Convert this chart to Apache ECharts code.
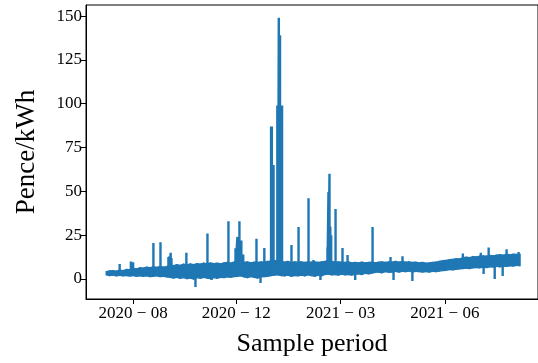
<!DOCTYPE html>
<html>
<head>
<meta charset="utf-8">
<script src="https://cdn.jsdelivr.net/npm/echarts@6/dist/echarts.min.js"></script>
<style>
  html, body { margin: 0; padding: 0; background: #fff; }
  #chart { width: 538px; height: 363px; }
</style>
</head>
<body>
<div id="chart"></div>
<script>
// x is days counted from the first labelled tick
const tickDays = [0, 92, 185, 278];
const tickLabels = ['2020 − 08', '2020 − 12', '2021 − 03', '2021 − 06'];
const yTicks = [0, 25, 50, 75, 100, 125, 150];

// everyday range of the price: [day, low, high]
const band = [
  [-24,2.4,4.2],[-21,2.0,4.6],[-18,2.2,4.8],[-15,1.8,4.5],[-12,2.1,5.0],[-9,1.9,4.8],[-6,2.0,5.4],[-3,1.7,5.2],
  [0,2.0,6.0],[3,1.6,5.8],[6,1.8,6.4],[9,1.5,6.2],[12,1.8,6.8],[15,1.4,6.4],[18,1.6,7.0],[21,1.8,6.6],
  [24,1.4,7.2],[27,1.6,6.8],[30,1.2,7.0],[33,1.0,8.0],[36,0.6,7.6],[39,1.0,8.2],[42,0.4,7.8],[45,0.8,8.4],
  [48,0.2,8.0],[51,0.6,8.6],[54,0.0,8.2],[57,0.8,8.8],[60,0.4,8.4],[63,1.0,9.0],[66,0.6,8.6],[69,0.2,9.2],
  [72,0.8,8.8],[75,0.4,9.0],[78,1.0,8.6],[81,0.8,9.2],[84,1.2,9.4],[87,1.0,9.0],[90,1.4,9.6],[93,1.6,10.5],
  [96,1.8,10.0],[99,1.2,9.4],[102,0.8,9.8],[105,1.4,9.2],[108,1.0,9.6],[111,0.6,9.4],[114,1.2,9.8],[117,1.4,9.6],
  [120,1.6,10.0],[123,2.0,10.2],[126,2.2,10.4],[129,2.4,10.6],[132,2.0,10.0],[135,1.8,9.6],[138,2.2,10.0],[141,1.6,9.4],
  [144,2.0,9.8],[147,1.8,9.6],[150,2.2,9.8],[153,1.8,9.4],[156,2.4,9.8],[159,2.0,9.6],[162,1.6,9.8],[165,2.2,9.4],
  [168,1.8,9.8],[171,2.6,10.0],[174,2.8,10.4],[177,2.4,10.0],[180,2.6,9.6],[183,2.2,9.8],[186,2.8,9.6],[189,2.4,9.4],
  [192,2.6,9.8],[195,2.2,9.2],[198,2.8,9.4],[201,3.0,9.2],[204,2.6,9.6],[207,3.2,9.2],[210,3.0,9.4],[213,3.4,9.6],
  [216,3.8,9.2],[219,4.0,9.6],[222,3.6,9.8],[225,4.2,9.4],[228,3.8,9.8],[231,4.0,9.6],[234,4.4,10.0],[237,4.0,9.6],
  [240,4.4,10.0],[243,4.2,9.6],[246,4.6,9.8],[249,4.0,9.4],[252,4.4,9.6],[255,4.2,9.2],[258,4.0,9.4],[261,4.2,9.0],
  [264,4.0,9.2],[267,4.4,9.4],[270,4.2,9.6],[273,4.6,10.0],[276,4.8,10.4],[279,5.0,10.6],[282,5.4,11.0],[285,5.2,11.2],
  [288,5.6,11.6],[291,5.8,11.4],[294,6.0,12.0],[297,6.2,12.4],[300,6.0,12.2],[303,6.4,12.8],[306,6.6,12.6],[309,6.4,13.0],
  [312,6.8,13.2],[315,6.6,13.0],[318,7.0,13.4],[321,6.8,13.2],[324,7.2,13.6],[327,7.0,13.8],[330,7.4,13.6],[333,7.2,14.0],
  [336,7.6,13.8],[339,7.4,14.2],[342,7.8,14.0],[345,7.6,14.2]
];

// short spikes and dips out of the band: [day, from, to]
const spikes = [
  [-12,4,8.6],[-2,4,10],[0,4,9.6],[18.1,5,20.5],[24.4,5,21],[31.5,5,12.5],[32.5,5,13],[33.5,5,15],[34.2,5,12],
  [47.5,5,15],[55.6,3,-4.5],[66.3,5,26],[70,3,-0.6],[85,5,33],[91.3,5,17.5],[93,5,24],[94.8,5,33],[96.5,5,22],
  [98.2,5,14],[110,5,23],[113.6,3,-2.3],[117,5,17.7],
  [123.0,5,87],[123.7,5,87],[124.5,5,65],[125.2,5,65],[128.6,5,99],[129.3,5,99],[129.9,5,149],[130.5,5,99],
  [131.0,5,139],[131.6,5,99],[132.2,5,99],[132.8,5,99],
  [141.2,5,19.4],[147.5,5,29.7],[156.4,5,46],[160.8,5,10.8],[167,3,-0.5],[173.3,5,18],[174.2,5,49.6],[175.1,5,60],
  [175.8,5,30],[176.6,5,25],[180.5,5,40],[186.7,5,17.7],[191.2,5,13.7],[198,3,-0.6],[213.5,6,29.7],[229.5,6,12.6],
  [232.2,5,-0.6],[240.2,6,13],[249,5,-1.1],[294,9,14.5],[310,9,15],[312.5,8,2.9],[317,10,18],[322.4,8,0],
  [329.5,9,1.7],[333,10,17],[343.7,10,15.4]
];

const blue = '#1f77b4';
const font = '"Liberation Serif", "DejaVu Serif", serif';

const spikePath = [];
spikes.forEach(([d, from, to]) => {
  spikePath.push([d, from], [d, to], [d, from]);
});

// one quad per pair of neighbouring band rows
function renderBand(params, api) {
  const i = params.dataIndex;
  if (i >= band.length - 1) return null;
  const next = band[i + 1];
  const pts = [
    api.coord([api.value(0), api.value(1)]),
    api.coord([next[0], next[1]]),
    api.coord([next[0], next[2]]),
    api.coord([api.value(0), api.value(2)]),
  ];
  return {
    type: 'polygon',
    shape: { points: pts },
    style: { fill: blue, stroke: blue, lineWidth: 1.4, lineJoin: 'round' },
  };
}

const chart = echarts.init(document.getElementById('chart'), null, { renderer: 'canvas' });

chart.setOption({
  animation: false,
  backgroundColor: '#fff',
  grid: {
    left: 86,
    right: 0,
    top: 5,
    bottom: 64,
    show: true,
    borderColor: '#000',
    borderWidth: 1,
  },
  xAxis: {
    type: 'value',
    min: -42,
    max: 361,
    name: 'Sample period',
    nameLocation: 'middle',
    nameGap: 32,
    nameTextStyle: { fontFamily: font, fontSize: 26, color: '#000' },
    splitLine: { show: false },
    axisLine: { show: true, onZero: false, lineStyle: { color: '#000', width: 1 } },
    axisTick: { show: true, length: 5, customValues: tickDays, lineStyle: { color: '#000' } },
    axisLabel: {
      customValues: tickDays,
      margin: 6,
      fontFamily: font,
      fontSize: 17,
      color: '#000',
      formatter: v => tickLabels[tickDays.indexOf(v)] || '',
    },
  },
  yAxis: {
    type: 'value',
    min: -11.4,
    max: 156.3,
    name: 'Pence/kWh',
    nameLocation: 'middle',
    nameGap: 46,
    nameRotate: 90,
    nameTextStyle: { fontFamily: font, fontSize: 27, color: '#000' },
    splitLine: { show: false },
    axisLine: { show: true, onZero: false, lineStyle: { color: '#000', width: 1 } },
    axisTick: { show: true, length: 5, customValues: yTicks, lineStyle: { color: '#000' } },
    axisLabel: {
      customValues: yTicks,
      margin: 4,
      fontFamily: font,
      fontSize: 17,
      color: '#000',
    },
  },
  series: [
    {
      type: 'custom',
      data: band,
      clip: true,
      renderItem: renderBand,
      encode: { x: 0, y: [1, 2] },
    },
    {
      type: 'line',
      data: spikePath,
      showSymbol: false,
      symbol: 'none',
      lineStyle: { color: blue, width: 2.4 },
    },
  ],
});
</script>
</body>
</html>
